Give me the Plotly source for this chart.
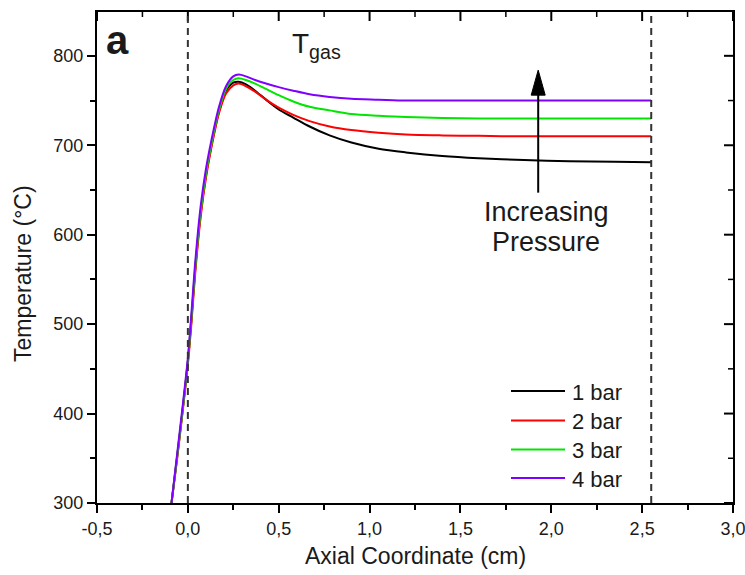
import plotly.graph_objects as go

# Axial positions (cm) where the gas temperature profiles are sampled
axial_cm = [-0.09, -0.06, -0.03, 0.00, 0.02, 0.04, 0.07, 0.10, 0.13, 0.17,
            0.21, 0.25, 0.28, 0.32, 0.37, 0.43, 0.50, 0.58, 0.67, 0.78,
            0.90, 1.05, 1.20, 1.40, 1.60, 1.85, 2.10, 2.35, 2.55]

# Gas temperature (°C) for each operating pressure
t_1bar = [300, 350, 402, 458, 506, 560, 623, 667, 700, 737,
          761, 770, 771, 768, 761, 751, 740, 731, 721, 711,
          703, 696, 692, 688, 685.5, 683.5, 682, 681.5, 681]
t_2bar = [300, 348, 400, 455, 502, 556, 619, 664, 698, 735,
          758, 767, 769, 766, 760, 751, 742, 734, 727, 721,
          717, 714, 712, 711, 710.5, 710, 710, 710, 710]
t_3bar = [300, 350, 402, 458, 508, 562, 625, 669, 702, 739,
          763, 773, 775, 773, 769, 763, 756, 749, 743, 739,
          735, 733, 731.5, 730.5, 730, 730, 730, 730, 730]
t_4bar = [300, 353, 406, 462, 513, 568, 631, 674, 706, 742,
          766, 777, 779, 777, 773, 769, 765, 761, 757, 754,
          752, 751, 750, 750, 750, 750, 750, 750, 750]

series_names = ["1 bar", "2 bar", "3 bar", "4 bar"]
series_colors = ["#000000", "#ff0000", "#00e600", "#8000ff"]
series_values = [t_1bar, t_2bar, t_3bar, t_4bar]

x_tick_vals = [-0.5, 0.0, 0.5, 1.0, 1.5, 2.0, 2.5, 3.0]
x_tick_text = ["-0,5", "0,0", "0,5", "1,0", "1,5", "2,0", "2,5", "3,0"]
y_tick_vals = [300, 400, 500, 600, 700, 800]
y_tick_text = ["300", "400", "500", "600", "700", "800"]

X_RANGE = [-0.5, 3.0]
Y_RANGE = [300, 849]
X_MINOR_STEP = 0.25
Y_MINOR_STEP = 50
INLET_X = 0.0
OUTLET_X = 2.55

# Pressure arrow: shaft from tail to tip (cm, °C)
ARROW_X = 1.928
ARROW_TAIL = 647
ARROW_TIP = 784

FONT = "Liberation Sans, Arial, sans-serif"
INK = "#1a1a1a"

W, H = 745, 575
ML, MR, MT, MB = 97, 12, 12, 72
PW, PH = W - ML - MR, H - MT - MB
X_PER_PX = (X_RANGE[1] - X_RANGE[0]) / PW
Y_PER_PX = (Y_RANGE[1] - Y_RANGE[0]) / PH


def px_x(px):
    return (px - ML) / PW


def px_y(py):
    return (H - MB - py) / PH


fig = go.Figure()
for name, color, vals in zip(series_names, series_colors, series_values):
    fig.add_trace(go.Scatter(
        x=axial_cm, y=vals, mode="lines", name=name,
        line=dict(color=color, width=2, shape="spline", smoothing=0.8),
        showlegend=False,
    ))

# Inward-pointing ticks on the top and right frame edges
n_x_minor = int(round((X_RANGE[1] - X_RANGE[0]) / X_MINOR_STEP))
for k in range(n_x_minor + 1):
    xv = X_RANGE[0] + k * X_MINOR_STEP
    major = any(abs(xv - t) < 1e-9 for t in x_tick_vals)
    length = 9 if major else 5
    fig.add_shape(type="line", xref="x", yref="paper", x0=xv, x1=xv,
                  y0=1, y1=1 - length / PH,
                  line=dict(color="#000000", width=2 if major else 1.5))
n_y_minor = int((Y_RANGE[1] - Y_RANGE[0]) // Y_MINOR_STEP)
for k in range(n_y_minor + 1):
    yv = Y_RANGE[0] + k * Y_MINOR_STEP
    major = yv in y_tick_vals
    length = 9 if major else 5
    fig.add_shape(type="line", xref="paper", yref="y", x0=1, x1=1 - length / PW,
                  y0=yv, y1=yv,
                  line=dict(color="#000000", width=2 if major else 1.5))

# Inlet / outlet boundaries
for xb in (INLET_X, OUTLET_X):
    fig.add_shape(type="line", xref="x", yref="paper", x0=xb, x1=xb, y0=0, y1=1,
                  line=dict(color="#333333", width=2, dash="7px,5px"))

# Legend drawn as line samples with labels
legend_rows_py = [391, 420.5, 449.5, 478]
for name, color, py in zip(series_names, series_colors, legend_rows_py):
    fig.add_shape(type="line", xref="paper", yref="paper",
                  x0=px_x(511), x1=px_x(565), y0=px_y(py), y1=px_y(py),
                  line=dict(color=color, width=2))
    fig.add_annotation(xref="paper", yref="paper", x=px_x(570), y=px_y(py + 1),
                       text=name, showarrow=False, xanchor="left", yanchor="middle",
                       font=dict(family=FONT, size=22, color=INK))

# Panel letter and labels
fig.add_annotation(xref="paper", yref="paper", x=px_x(104), y=px_y(40),
                   text="<b>a</b>", showarrow=False, xanchor="left", yanchor="middle",
                   font=dict(family=FONT, size=40, color=INK))
fig.add_annotation(xref="paper", yref="paper", x=px_x(290), y=px_y(46),
                   text="T<sub>gas</sub>", showarrow=False, xanchor="left", yanchor="middle",
                   font=dict(family=FONT, size=28, color=INK))
fig.add_annotation(xref="paper", yref="paper", x=px_x(546), y=px_y(212),
                   text="Increasing", showarrow=False, xanchor="center", yanchor="middle",
                   font=dict(family=FONT, size=27, color=INK))
fig.add_annotation(xref="paper", yref="paper", x=px_x(546), y=px_y(242),
                   text="Pressure", showarrow=False, xanchor="center", yanchor="middle",
                   font=dict(family=FONT, size=27, color=INK))

# Axis titles
fig.add_annotation(xref="paper", yref="paper", x=px_x(415), y=px_y(556),
                   text="Axial Coordinate (cm)", showarrow=False,
                   xanchor="center", yanchor="middle",
                   font=dict(family=FONT, size=23, color=INK))
fig.add_annotation(xref="paper", yref="paper", x=px_x(23), y=px_y(274),
                   text="Temperature (°C)", showarrow=False, textangle=-90,
                   xanchor="center", yanchor="middle",
                   font=dict(family=FONT, size=23, color=INK))

# Pressure arrow: shaft plus filled head
HEAD_LEN = 25 * Y_PER_PX
HEAD_HALF = 7 * X_PER_PX
fig.add_shape(type="line", xref="x", yref="y", x0=ARROW_X, x1=ARROW_X,
              y0=ARROW_TAIL, y1=ARROW_TIP - HEAD_LEN + 1,
              line=dict(color="#000000", width=2))
fig.add_shape(type="path", xref="x", yref="y",
              path=(f"M{ARROW_X - HEAD_HALF},{ARROW_TIP - HEAD_LEN} "
                    f"L{ARROW_X},{ARROW_TIP} L{ARROW_X + HEAD_HALF},{ARROW_TIP - HEAD_LEN} Z"),
              fillcolor="#000000", line=dict(color="#000000", width=1))

axis_common = dict(showline=True, mirror=True, linecolor="#000000", linewidth=2,
                   showgrid=False, zeroline=False, tickcolor="#000000", tickwidth=2,
                   automargin=False, ticklabeloverflow="allow",
                   tickfont=dict(family=FONT, size=18, color=INK))

fig.update_layout(
    width=W, height=H,
    margin=dict(l=ML, r=MR, t=MT, b=MB, autoexpand=False),
    paper_bgcolor="white", plot_bgcolor="white",
    showlegend=False,
    xaxis=dict(range=X_RANGE, tickmode="array", tickvals=x_tick_vals, ticktext=x_tick_text,
               ticks="outside", ticklen=8,
               minor=dict(ticks="outside", ticklen=5, tickwidth=1.5, tickcolor="#000000",
                          tick0=0, dtick=X_MINOR_STEP, showgrid=False),
               **axis_common),
    yaxis=dict(range=Y_RANGE, tickmode="array", tickvals=y_tick_vals, ticktext=y_tick_text,
               ticks="outside", ticklen=8,
               minor=dict(ticks="outside", ticklen=5, tickwidth=1.5, tickcolor="#000000",
                          tick0=300, dtick=Y_MINOR_STEP, showgrid=False),
               **axis_common),
)

fig.write_html("out.html")
